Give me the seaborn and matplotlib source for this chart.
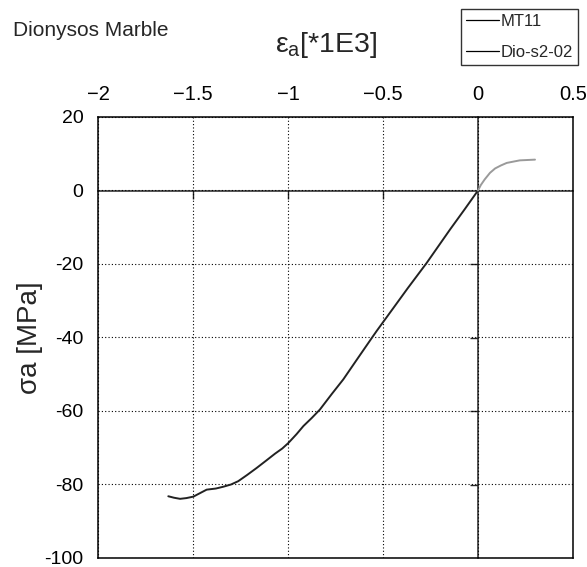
import numpy as np
import pandas as pd
import matplotlib
matplotlib.use("Agg")
import matplotlib.pyplot as plt
import seaborn as sns

# --- données (déformation axiale *1E3, contrainte MPa) ---
mt11_strain = [-1.630, -1.600, -1.568, -1.535, -1.498, -1.465, -1.428, -1.380,
               -1.340, -1.300, -1.262, -1.215, -1.165, -1.115, -1.068, -1.030,
               -0.998, -0.955, -0.919, -0.875, -0.832, -0.770, -0.709, -0.640,
               -0.560, -0.533, -0.450, -0.370, -0.270, -0.147, -0.070, 0.0]
mt11_stress = [-83.2, -83.6, -83.9, -83.7, -83.3, -82.4, -81.4, -81.1,
               -80.6, -80.0, -79.1, -77.4, -75.5, -73.5, -71.6, -70.2,
               -68.7, -66.3, -64.1, -61.9, -59.6, -55.4, -51.4, -46.2,
               -40.2, -38.2, -32.3, -26.6, -19.7, -10.6, -5.1, 0.0]

dio_strain = [0.0, 0.015, 0.035, 0.063, 0.090, 0.120, 0.151, 0.190, 0.220, 0.260, 0.300]
dio_stress = [0.0, 1.5, 3.0, 4.8, 6.0, 6.8, 7.5, 7.9, 8.2, 8.3, 8.4]

x_ticks = [-2, -1.5, -1, -0.5, 0, 0.5]
x_ticklabels = ['\u22122', '\u22121.5', '\u22121', '\u22120.5', '0', '0.5']
y_ticks = [-100, -80, -60, -40, -20, 0, 20]
y_ticklabels = ['-100', '-80', '-60', '-40', '-20', '0', '20']

df = pd.concat([
    pd.DataFrame({'strain': mt11_strain, 'stress': mt11_stress, 'sample': 'MT11'}),
    pd.DataFrame({'strain': dio_strain, 'stress': dio_stress, 'sample': 'Dio-s2-02'}),
])

sns.set_style('white')
plt.rcParams['font.family'] = ['Liberation Sans', 'DejaVu Sans']
plt.rcParams['mathtext.fontset'] = 'custom'
plt.rcParams['mathtext.rm'] = 'Liberation Sans'
plt.rcParams['mathtext.it'] = 'Liberation Sans'

fig = plt.figure(figsize=(5.87, 5.67), dpi=100)
ax = fig.add_axes([98/587, 1 - 558/567, 475/587, 441/567])

sns.lineplot(data=df, x='strain', y='stress', hue='sample', sort=False,
             palette={'MT11': '#222222', 'Dio-s2-02': '#9a9a9a'},
             linewidth=1.4, ax=ax, legend=False)

ax.set_xlim(-2, 0.5)
ax.set_ylim(-100, 20)
ax.set_xticks(x_ticks)
ax.set_xticklabels(x_ticklabels)
ax.set_yticks(y_ticks)
ax.set_yticklabels(y_ticklabels)
ax.xaxis.tick_top()
ax.tick_params(axis='x', length=0, labelsize=14.5, colors='black', pad=9)
ax.tick_params(axis='y', length=0, labelsize=14, colors='black', pad=10.5)
ax.grid(True, linestyle=(0, (1, 2)), color='black', linewidth=0.8)
for s in ax.spines.values():
    s.set_visible(True)
    s.set_color('black')
    s.set_linewidth(1.1)

# axes passant par l'origine (style MATLAB)
secx = ax.secondary_xaxis((0 - (-100)) / 120)
secx.set_alignment('bottom')
secx.set_xticks(x_ticks[1:-2])
secx.tick_params(direction='out', length=5.5, width=1, labelbottom=False, labeltop=False)
secx.spines['bottom'].set_linewidth(1.1)
secy = ax.secondary_yaxis((0 - (-2)) / 2.5)
secy.set_alignment('left')
secy.set_yticks(y_ticks[1:-2])
secy.tick_params(direction='out', length=5.5, width=1, labelleft=False, labelright=False)
secy.spines['left'].set_linewidth(1.1)

ax.set_xlabel(r'$\mathregular{ε_a}$[*1E3]', fontsize=20.5)
ax.xaxis.set_label_position('top')
ax.xaxis.set_label_coords(0.48, 1.147)
ax.set_ylabel('σa [MPa]', fontsize=20)
ax.yaxis.set_label_coords(-0.116, 0.499)

fig.text(13/587, 1 - 36/567, 'Dionysos Marble', fontsize=15, va='baseline', ha='left')

handles = ax.get_lines()[:2]
leg = fig.legend(handles, ['MT11', 'Dio-s2-02'], loc='upper right',
                 bbox_to_anchor=(578/587, 1 - 9/567), borderaxespad=0,
                 fontsize=12, frameon=True, fancybox=False, edgecolor='black',
                 handlelength=2.0, handletextpad=0.1, borderpad=0.3,
                 labelspacing=0.95)
leg.get_frame().set_linewidth(1.0)
for h in leg.legend_handles:
    h.set_color('black')
    h.set_linewidth(0.9)

fig.savefig('out.png', dpi=100)
